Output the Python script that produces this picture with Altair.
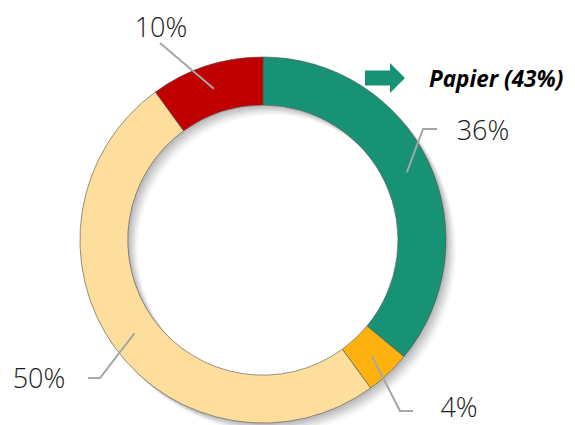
import altair as alt
import pandas as pd
import numpy as np

# ---- data ----
categories = ["Papier", "Catégorie B", "Catégorie C", "Catégorie D"]
values = [36, 4, 50, 10]
colors = ["#179275", "#FFB10F", "#FDDE9C", "#C00000"]
highlight_text = "Papier (43%)"

# ---- layout ----
W, H = 559, 417
cx, cy = 255, 232
R_out, R_in = 183, 135
R_lead = 159
label_pos = [(475, 132), (451, 409), (31, 380), (153, 29)]
leader_pts = [[(415, 121), (429, 121)], [(392, 403), (405, 403)],
              [(92, 370), (80, 370)], [(152, 35)]]

df = pd.DataFrame({"cat": categories, "value": values, "idx": range(len(values))})
df["label"] = [f"{v}%" for v in values]

# leader lines starting at the middle of each segment
total = sum(values)
cum = np.cumsum([0] + values[:-1])
rows = []
for i, v in enumerate(values):
    a = (cum[i] + v / 2) / total * 2 * np.pi
    pts = [(cx + R_lead * np.sin(a), cy - R_lead * np.cos(a))] + leader_pts[i]
    for k, (px, py) in enumerate(pts):
        rows.append({"g": i, "k": k, "x": px, "y": py})
lead = pd.DataFrame(rows)

lab = df.copy()
lab["x"] = [p[0] for p in label_pos]
lab["y"] = [p[1] for p in label_pos]

xs = alt.Scale(domain=[0, W], range=[0, W])
ys = alt.Scale(domain=[0, H], range=[0, H])

shadows = []
for dx, op in [(2, 0.07), (4, 0.07), (6, 0.06), (8, 0.05), (10, 0.03)]:
    shadows.append(
        alt.Chart(df).mark_arc(radius=R_out, radius2=R_in, color="#000000", opacity=op).encode(
            theta=alt.Theta("value:Q", stack=True),
            order=alt.Order("idx:Q"),
            x=alt.value(cx + dx),
            y=alt.value(cy + dx),
        )
    )

ring = alt.Chart(df).mark_arc(radius=R_out, radius2=R_in, stroke="#505050", strokeWidth=0.6).encode(
    theta=alt.Theta("value:Q", stack=True),
    order=alt.Order("idx:Q"),
    color=alt.Color("cat:N", scale=alt.Scale(domain=categories, range=colors), legend=None),
    x=alt.value(cx),
    y=alt.value(cy),
)

lines = alt.Chart(lead).mark_line(color="#A6A6A6", strokeWidth=2).encode(
    x=alt.X("x:Q", scale=xs, axis=None),
    y=alt.Y("y:Q", scale=ys, axis=None),
    detail="g:N",
    order="k:Q",
)

texts = alt.Chart(lab).mark_text(
    font="Open Sans", fontSize=27, fontWeight=300, color="#1a1a1a",
    align="center", baseline="alphabetic"
).encode(
    x=alt.X("x:Q", scale=xs, axis=None),
    y=alt.Y("y:Q", scale=ys, axis=None),
    text="label:N",
)

ann = pd.DataFrame({"x": [377], "y": [70], "tx": [421], "ty": [79], "t": [highlight_text]})
arrow_path = "M-1,-0.375L0.25,-0.375L0.25,-0.75L1,0L0.25,0.75L0.25,0.375L-1,0.375Z"
arrow = alt.Chart(ann).mark_point(shape=arrow_path, filled=True, size=1600, color="#179275", opacity=1).encode(
    x=alt.X("x:Q", scale=xs, axis=None),
    y=alt.Y("y:Q", scale=ys, axis=None),
)
ptext = alt.Chart(ann).mark_text(
    font="Open Sans", fontSize=22.5, fontWeight="bold", fontStyle="italic", color="#000000",
    align="left", baseline="alphabetic"
).encode(
    x=alt.X("tx:Q", scale=xs, axis=None),
    y=alt.Y("ty:Q", scale=ys, axis=None),
    text="t:N",
)

chart = alt.layer(*shadows, ring, lines, texts, arrow, ptext).properties(
    width=W, height=H, padding=0, autosize=alt.AutoSizeParams(type="none")
).configure(background="white").configure_view(stroke=None)

chart.save("out.html", embed_options={"renderer": "svg", "actions": False})
